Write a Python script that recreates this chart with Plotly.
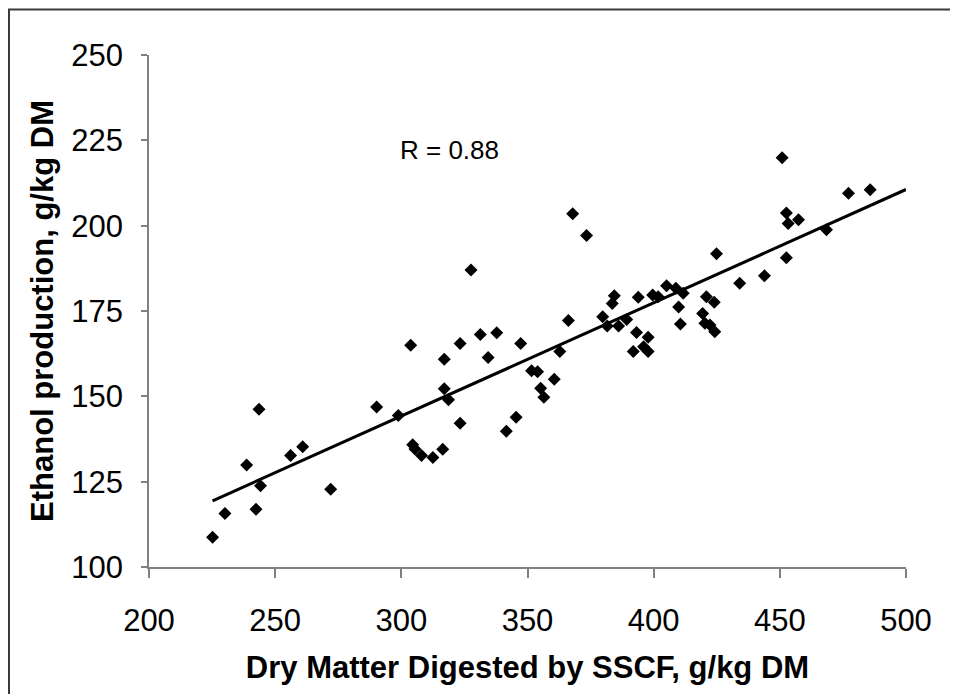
import plotly.graph_objects as go

# Data
dm_digested = [225.2, 230.1, 238.7, 242.4, 243.6, 244.2, 256.1, 260.9, 272.0, 290.2,
               298.8, 303.7, 304.5, 305.4, 308.0, 312.5, 316.4, 317.0, 317.0, 318.7,
               323.3, 323.3, 327.6, 331.3, 334.4, 337.8, 341.6, 345.5, 347.3, 351.6,
               354.0, 355.2, 356.5, 360.6, 362.8, 366.2, 367.9, 373.4, 379.8, 381.6,
               383.6, 384.4, 386.1, 389.3, 391.9, 393.2, 393.9, 396.0, 397.8, 397.8,
               399.6, 401.8, 405.1, 408.8, 409.9, 410.6, 411.7, 419.4, 420.3, 420.9,
               422.3, 424.0, 424.2, 424.9, 434.1, 443.9, 450.9, 452.6, 452.6, 453.3,
               457.4, 468.5, 477.2, 485.8]
ethanol = [108.7, 115.7, 129.9, 116.9, 146.2, 123.8, 132.7, 135.2, 122.8, 146.9,
           144.4, 165.0, 135.8, 134.6, 132.7, 132.1, 134.5, 160.9, 152.2, 149.0,
           165.5, 142.1, 187.0, 168.1, 161.4, 168.6, 139.8, 143.9, 165.5, 157.5,
           157.2, 152.4, 149.7, 155.0, 163.1, 172.2, 203.5, 197.1, 173.3, 170.6,
           177.2, 179.5, 170.6, 172.5, 163.1, 168.7, 179.0, 164.5, 167.3, 163.1,
           179.7, 179.2, 182.4, 181.7, 176.2, 171.2, 180.2, 174.3, 171.4, 179.2,
           170.9, 177.6, 168.9, 191.8, 183.1, 185.3, 219.9, 190.6, 203.7, 200.6,
           201.7, 198.8, 209.5, 210.5]
trend_x = [225.2, 500.0]
trend_y = [119.4, 210.6]
x_ticks = [200, 250, 300, 350, 400, 450, 500]
y_ticks = [100, 125, 150, 175, 200, 225, 250]
r_label = "R = 0.88"

FONT = "Liberation Sans, Arial, sans-serif"

fig = go.Figure()
fig.add_trace(go.Scatter(x=dm_digested, y=ethanol, mode="markers",
                         marker=dict(symbol="diamond", size=10, color="black",
                                     line=dict(width=0)),
                         showlegend=False, hoverinfo="x+y"))
fig.add_trace(go.Scatter(x=trend_x, y=trend_y, mode="lines",
                         line=dict(color="black", width=3),
                         showlegend=False, hoverinfo="skip"))

fig.add_annotation(x=318.9, y=222.2, xref="x", yref="y", text=r_label,
                   showarrow=False, font=dict(family=FONT, size=26, color="black"))

# outer frame (extends past the window on right and bottom)
fig.add_shape(type="rect", xref="paper", yref="paper",
              x0=(1 - 141) / 757, x1=1.3, y0=-0.5, y1=(559 - 1.5) / 512,
              line=dict(color="#3a3a3a", width=2), fillcolor="rgba(0,0,0,0)",
              layer="above")

fig.update_layout(
    width=950, height=686,
    margin=dict(l=141, r=52, t=47, b=127),
    paper_bgcolor="white", plot_bgcolor="white",
    font=dict(family=FONT, color="black"),
    xaxis=dict(range=[200, 500], tickvals=x_ticks, ticktext=[str(v) for v in x_ticks],
               showgrid=False, zeroline=False, showline=True, linecolor="#808080",
               linewidth=1.5, ticks="outside", ticklen=9, tickcolor="#808080",
               tickwidth=1.5, tickfont=dict(size=31, family=FONT, color="black"),
               ticklabelstandoff=16,
               title=dict(text="<b>Dry Matter Digested by SSCF, g/kg DM</b>",
                          font=dict(size=31, family=FONT, color="black"), standoff=19)),
    yaxis=dict(range=[100, 250], tickvals=y_ticks, ticktext=[str(v) for v in y_ticks],
               showgrid=False, zeroline=False, showline=True, linecolor="#808080",
               linewidth=1.5, ticks="outside", ticklen=6, tickcolor="#808080",
               tickwidth=1.5, tickfont=dict(size=31, family=FONT, color="black"),
               ticklabelstandoff=12,
               title=dict(text="<b>Ethanol production, g/kg DM</b>",
                          font=dict(size=31, family=FONT, color="black"), standoff=8)),
)

fig.write_html("out.html")
